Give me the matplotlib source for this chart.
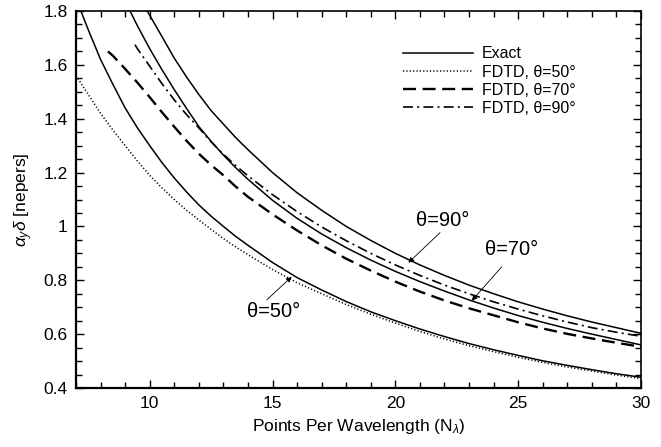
import matplotlib
matplotlib.use("Agg")
import matplotlib.pyplot as plt
from matplotlib.ticker import MultipleLocator, FuncFormatter

plt.rcParams['font.family'] = ['Liberation Sans', 'DejaVu Sans']
plt.rcParams['mathtext.fontset'] = 'custom'
plt.rcParams['mathtext.rm'] = 'Liberation Sans'
plt.rcParams['mathtext.it'] = 'Liberation Sans:italic'

# Exact attenuation, theta = 50 deg
n_ex50 = [7.2, 7.5, 8, 8.5, 9, 9.5, 10, 10.5, 11, 11.5, 12, 12.5, 13, 13.5,
          14, 15, 16, 17, 18, 19, 20, 21, 22, 23, 24, 25, 26, 27, 28, 29, 30]
a_ex50 = [1.80, 1.73, 1.62, 1.528, 1.44, 1.366, 1.30, 1.237, 1.18, 1.128,
          1.08, 1.038, 1.00, 0.963, 0.93, 0.866, 0.81, 0.764, 0.721, 0.683,
          0.65, 0.619, 0.591, 0.565, 0.542, 0.521, 0.501, 0.484, 0.468,
          0.453, 0.44]

# FDTD attenuation, theta = 50 deg
n_fd50 = [7, 7.5, 8, 8.5, 9, 9.5, 10, 10.5, 11, 11.5, 12, 12.5, 13, 13.5,
          14, 15, 16, 17, 18, 19, 20, 21, 22, 23, 24, 25, 26, 27, 28, 29, 30]
a_fd50 = [1.56, 1.49, 1.42, 1.358, 1.30, 1.243, 1.19, 1.143, 1.10, 1.06,
          1.024, 0.989, 0.955, 0.924, 0.895, 0.84, 0.791, 0.75, 0.71, 0.674,
          0.641, 0.61, 0.582, 0.557, 0.535, 0.514, 0.495, 0.478, 0.463,
          0.448, 0.435]

# Exact attenuation, theta = 70 deg
n_ex70 = [9.2, 9.5, 10, 10.5, 11, 11.5, 12, 12.5, 13, 13.5, 14, 15, 16, 17,
          18, 19, 20, 21, 22, 23, 24, 25, 26, 27, 28, 29, 30]
a_ex70 = [1.80, 1.745, 1.66, 1.582, 1.508, 1.438, 1.371, 1.316, 1.265,
          1.218, 1.175, 1.097, 1.03, 0.972, 0.921, 0.875, 0.833, 0.795,
          0.76, 0.727, 0.697, 0.669, 0.644, 0.621, 0.6, 0.58, 0.56]

# FDTD attenuation, theta = 70 deg
n_fd70 = [8.3, 8.5, 9, 9.5, 10, 10.5, 11, 11.5, 12, 12.5, 13, 13.5, 14, 15,
          16, 17, 18, 19, 20, 21, 22, 23, 24, 25, 26, 27, 28, 29, 30]
a_fd70 = [1.65, 1.634, 1.585, 1.534, 1.48, 1.424, 1.37, 1.318, 1.27, 1.228,
          1.19, 1.148, 1.11, 1.045, 0.985, 0.93, 0.88, 0.836, 0.795, 0.758,
          0.725, 0.696, 0.67, 0.644, 0.621, 0.601, 0.584, 0.568, 0.553]

# Exact attenuation, theta = 90 deg
n_ex90 = [9.9, 10.5, 11, 11.5, 12, 12.5, 13, 13.5, 14, 15, 16, 17, 18, 19,
          20, 21, 22, 23, 24, 25, 26, 27, 28, 29, 30]
a_ex90 = [1.80, 1.705, 1.625, 1.555, 1.49, 1.43, 1.38, 1.33, 1.285, 1.20,
          1.125, 1.06, 1.00, 0.948, 0.90, 0.857, 0.818, 0.782, 0.75, 0.72,
          0.693, 0.668, 0.645, 0.624, 0.603]

# FDTD attenuation, theta = 90 deg
n_fd90 = [9.4, 9.5, 10, 10.5, 11, 11.5, 12, 12.5, 13, 13.5, 14, 15, 16, 17,
          18, 19, 20, 21, 22, 23, 24, 25, 26, 27, 28, 29, 30]
a_fd90 = [1.675, 1.66, 1.595, 1.53, 1.47, 1.415, 1.366, 1.314, 1.268,
          1.226, 1.188, 1.118, 1.055, 0.998, 0.947, 0.90, 0.857, 0.818,
          0.782, 0.75, 0.72, 0.693, 0.668, 0.645, 0.624, 0.607, 0.592]

fig = plt.figure(figsize=(6.61, 4.47), dpi=100)
ax = fig.add_axes([76 / 661, 1 - 388 / 447, 565 / 661, 377 / 447])

ax.plot(n_ex50, a_ex50, color='black', lw=1.1, label='Exact')
ax.plot(n_fd50, a_fd50, color='black', lw=1.1, dashes=(0.8, 1.4),
        label='FDTD, θ=50°')
ax.plot(n_fd70, a_fd70, color='black', lw=1.7, dashes=(5.5, 2.8),
        label='FDTD, θ=70°')
ax.plot(n_fd90, a_fd90, color='black', lw=1.2, dashes=(6, 2.5, 1.2, 2.5),
        label='FDTD, θ=90°')
ax.plot(n_ex70, a_ex70, color='black', lw=1.1)
ax.plot(n_ex90, a_ex90, color='black', lw=1.1)

ax.set_xlim(7, 30)
ax.set_ylim(0.4, 1.8)
ax.xaxis.set_major_locator(MultipleLocator(5))
ax.xaxis.set_minor_locator(MultipleLocator(1))
ax.yaxis.set_major_locator(MultipleLocator(0.2))
ax.yaxis.set_minor_locator(MultipleLocator(0.05))
ax.yaxis.set_major_formatter(FuncFormatter(lambda v, p: f"{v:g}"))
ax.tick_params(which='both', direction='in', top=True, right=True,
               labelsize=12.5, width=1.0)
ax.tick_params(which='major', length=6, pad=6)
ax.tick_params(which='minor', length=4)
ax.spines['left'].set_linewidth(1.6)
ax.spines['bottom'].set_linewidth(1.6)
ax.spines['top'].set_linewidth(1.2)
ax.spines['right'].set_linewidth(1.2)

ax.set_xlabel(r'Points Per Wavelength (N$_\lambda$)', fontsize=12.5,
              labelpad=4)
ax.set_ylabel(r'$\alpha_y\delta$ [nepers]', fontsize=12.5, labelpad=6)

leg = ax.legend(loc='upper left', bbox_to_anchor=(0.578, 0.906),
                frameon=False, fontsize=11.5, handlelength=4.4,
                handletextpad=0.55, labelspacing=0.2, borderpad=0,
                borderaxespad=0)

arrow = dict(arrowstyle='-|>', lw=0.6, color='black', mutation_scale=8,
             shrinkA=0, shrinkB=0)
ax.text(21.92, 1.022, 'θ=90°', ha='center', va='center', fontsize=14.5)
ax.annotate('', xy=(20.53, 0.865), xytext=(21.82, 0.977), arrowprops=arrow)
ax.text(24.75, 0.916, 'θ=70°', ha='center', va='center', fontsize=14.5)
ax.annotate('', xy=(23.11, 0.724), xytext=(24.33, 0.850), arrowprops=arrow)
ax.text(15.03, 0.683, 'θ=50°', ha='center', va='center', fontsize=14.5)
ax.annotate('', xy=(15.78, 0.813), xytext=(14.76, 0.727), arrowprops=arrow)

fig.savefig('out.png', dpi=100)
